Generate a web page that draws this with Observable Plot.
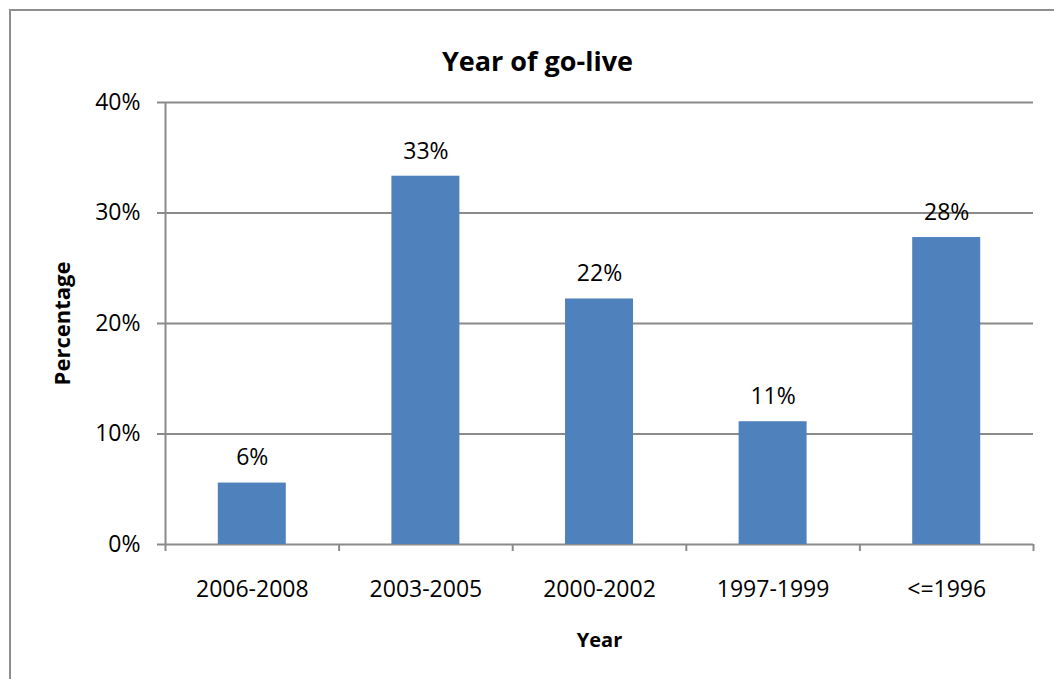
<!DOCTYPE html>
<html>
<head>
<meta charset="utf-8">
<script src="https://cdn.jsdelivr.net/npm/d3@7"></script>
<script src="https://cdn.jsdelivr.net/npm/@observablehq/plot@0.6"></script>
<style>
  html, body { margin: 0; padding: 0; background: #fff; overflow: hidden; }
  #chart { position: relative; width: 1054px; height: 679px; }
  #border {
    position: absolute; left: 9px; top: 9px; width: 1100px; height: 700px;
    border: 2px solid #8e8e8e; box-sizing: border-box; pointer-events: none;
  }
  #chart svg { position: absolute; left: 0; top: 0; }
</style>
</head>
<body>
<div id="chart"><div id="border"></div></div>
<script>
// Year of go-live, share of respondents per period
const categories = ["2006-2008", "2003-2005", "2000-2002", "1997-1999", "<=1996"];
const percentages = [5.56, 33.33, 22.22, 11.11, 27.78];
const yTicks = [0, 10, 20, 30, 40];

const title = "Year of go-live";
const xTitle = "Year";
const yTitle = "Percentage";

const rows = categories.map((c, i) => ({i, category: c, value: percentages[i]}));
const boundaries = d3.range(categories.length + 1);

const font = "'Open Sans', sans-serif";
const grey = "#8a8a8a";

const chart = Plot.plot({
  width: 1054,
  height: 679,
  marginLeft: 165,
  marginRight: 21,
  marginTop: 102,
  marginBottom: 135,
  style: {fontFamily: font, fontSize: "23px", color: "#000", background: "transparent"},
  x: {type: "linear", domain: [0, categories.length]},
  y: {domain: [0, 40]},
  marks: [
    // horizontal gridlines
    Plot.ruleY(yTicks, {stroke: grey, strokeWidth: 2}),
    // y axis line and ticks
    Plot.ruleX([0], {stroke: grey, strokeWidth: 2}),
    Plot.axisY({
      ticks: yTicks, tickSize: 8, tickPadding: 17, stroke: grey, strokeWidth: 2,
      strokeOpacity: 1, tickFormat: d => d + "%", label: null, fontSize: 23, fill: "#000"
    }),
    // x axis ticks at category boundaries
    Plot.axisX({
      ticks: boundaries, tickSize: 7, stroke: grey, strokeWidth: 2, strokeOpacity: 1,
      tickFormat: () => "", label: null
    }),
    // category labels centered in each band
    Plot.axisX({
      ticks: rows.map(d => d.i + 0.5), tickSize: 0, tickPadding: 36,
      tickFormat: v => categories[Math.floor(v)], label: null, fontSize: 23, fill: "#000"
    }),
    Plot.rectY(rows, {
      x1: "i", x2: d => d.i + 1, y: "value", fill: "#4f81bd",
      insetLeft: 52.8, insetRight: 52.8
    }),
    Plot.text(rows, {
      x: d => d.i + 0.5, y: "value", text: d => Math.round(d.value) + "%",
      dy: -25, fontSize: 23, fill: "#000"
    }),
    // titles
    Plot.text([title], {frameAnchor: "top", dx: -62, dy: -51, fontSize: 27, fontWeight: "bold", fill: "#000"}),
    Plot.text([xTitle], {frameAnchor: "bottom", dy: 102, fontSize: 20, fontWeight: "bold", fill: "#000"}),
    Plot.text([yTitle], {frameAnchor: "left", textAnchor: "middle", dx: -103, rotate: -90, fontSize: 22, fontWeight: "bold", fill: "#000"})
  ]
});

document.getElementById("chart").appendChild(chart);
</script>
</body>
</html>
